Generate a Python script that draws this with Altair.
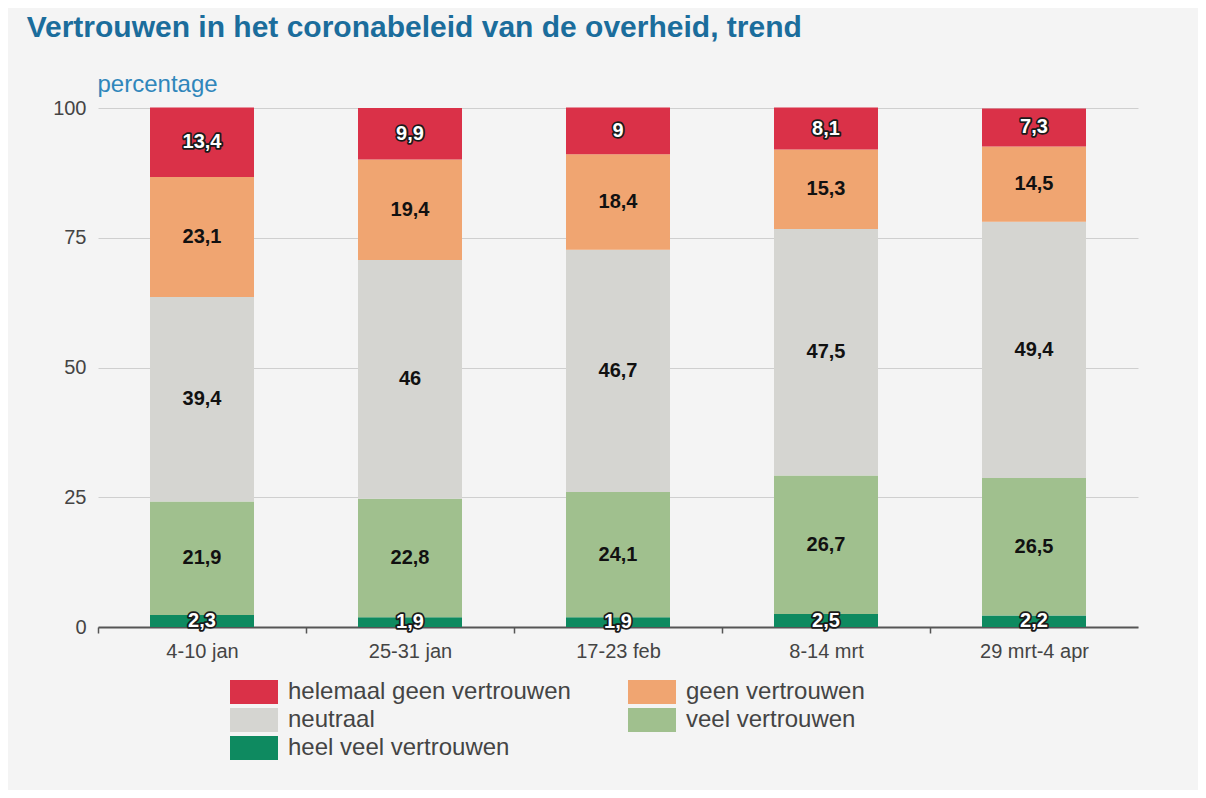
import altair as alt
import pandas as pd

periods = ["4-10 jan", "25-31 jan", "17-23 feb", "8-14 mrt", "29 mrt-4 apr"]
categories = ["heel veel vertrouwen", "veel vertrouwen", "neutraal",
              "geen vertrouwen", "helemaal geen vertrouwen"]
heel_veel = [2.3, 1.9, 1.9, 2.5, 2.2]
veel = [21.9, 22.8, 24.1, 26.7, 26.5]
neutraal = [39.4, 46, 46.7, 47.5, 49.4]
geen = [23.1, 19.4, 18.4, 15.3, 14.5]
helemaal_geen = [13.4, 9.9, 9, 8.1, 7.3]

legend_order = ["helemaal geen vertrouwen", "geen vertrouwen", "neutraal",
                "veel vertrouwen", "heel veel vertrouwen"]
legend_colors = ["#da3148", "#f0a571", "#d5d5d1", "#a0c08e", "#0e8a60"]

series = [heel_veel, veel, neutraal, geen, helemaal_geen]
rows = []
for i, p in enumerate(periods):
    for j, (c, vals) in enumerate(zip(categories, series)):
        rows.append({"periode": p, "categorie": c, "rank": j, "waarde": vals[i]})
df = pd.DataFrame(rows)

FONT = "Liberation Sans"

base = alt.Chart(df).transform_stack(
    stack="waarde", groupby=["periode"], as_=["y0", "y1"],
    sort=[alt.SortField("rank", order="ascending")]
).transform_calculate(
    mid="(datum.y0 + datum.y1) / 2",
    label="replace(toString(datum.waarde), '.', ',')"
)

x_enc = alt.X(
    "periode:N", sort=periods, title=None,
    scale=alt.Scale(paddingInner=0.5, paddingOuter=0.25),
    axis=alt.Axis(labelAngle=0, labelFontSize=20, labelColor="#444", labelFont=FONT,
                  labelPadding=8, domainColor="#555", domainWidth=2,
                  tickColor="#555", tickSize=6, tickWidth=1.5,
                  tickOffset=-104, labelOffset=104)
)
y_scale = alt.Scale(domain=[0, 100], nice=False)

bars = base.mark_bar().encode(
    x=x_enc,
    y=alt.Y("y0:Q", scale=y_scale,
            axis=alt.Axis(values=[0, 25, 50, 75, 100], grid=True, gridColor="#cfcfcf",
                          gridWidth=1.2, domain=False, ticks=False, labelFontSize=20,
                          labelColor="#444", labelFont=FONT, labelPadding=12,
                          title="percentage", titleAngle=0, titleAlign="left",
                          titleBaseline="alphabetic", titleX=-1, titleY=-17,
                          titleFontSize=24, titleFontWeight="normal",
                          titleColor="#2f86bb", titleFont=FONT)),
    y2="y1:Q",
    color=alt.Color("categorie:N",
                    scale=alt.Scale(domain=legend_order, range=legend_colors),
                    legend=alt.Legend(title=None, orient="none", legendX=144, legendY=572,
                                      columns=2, direction="horizontal",
                                      columnPadding=57, rowPadding=4,
                                      symbolType="M-2,-1L2,-1L2,1L-2,1Z",
                                      symbolSize=576, symbolStrokeWidth=0,
                                      symbolOpacity=1, labelFontSize=24,
                                      labelColor="#444", labelFont=FONT,
                                      labelOffset=22, labelLimit=400))
)

dark = "datum.rank == 0 || datum.rank == 4"

halo = base.transform_filter(dark).mark_text(
    font=FONT, fontSize=20, fontWeight="bold", stroke="#1a1a1a",
    strokeWidth=3.5, strokeJoin="round", fill="#1a1a1a", baseline="middle"
).encode(x=alt.X("periode:N", sort=periods), y=alt.Y("mid:Q", scale=y_scale),
         text="label:N")

labels = base.mark_text(
    font=FONT, fontSize=20, fontWeight="bold", baseline="middle"
).encode(
    x=alt.X("periode:N", sort=periods), y=alt.Y("mid:Q", scale=y_scale),
    text="label:N",
    color=alt.condition(dark, alt.value("white"), alt.value("#111"))
)

chart = alt.layer(bars, halo, labels).properties(
    width=1040, height=519,
    autosize=alt.AutoSizeParams(type="none"),
    padding={"left": 90, "top": 100, "right": 60, "bottom": 163},
    title=alt.Title("Vertrouwen in het coronabeleid van de overheid, trend",
                    anchor="start", dx=-26, offset=29, fontSize=30,
                    fontWeight="bold", color="#1b6d9c", font=FONT)
).configure(background="#f4f4f4").configure_view(stroke=None)

chart.save("out.html", embed_options={"renderer": "svg", "actions": False})
